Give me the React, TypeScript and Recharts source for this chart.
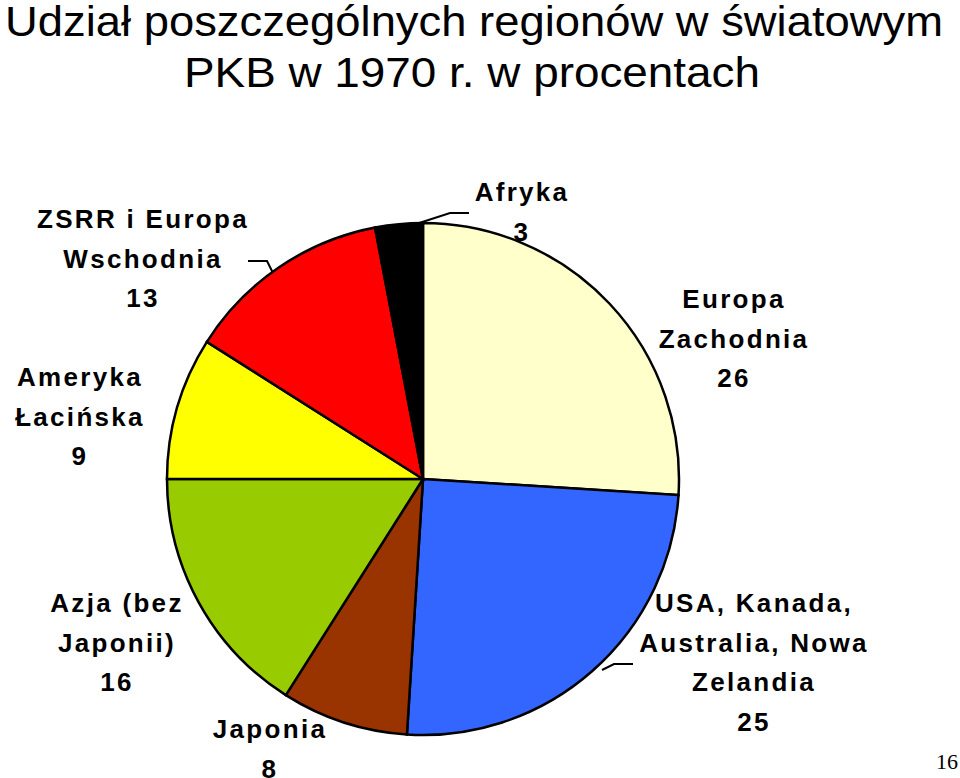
import { PieChart, Pie, Cell } from 'recharts';

const REGIONS = [
  'Europa Zachodnia',
  'USA, Kanada, Australia, Nowa Zelandia',
  'Japonia',
  'Azja (bez Japonii)',
  'Ameryka Łacińska',
  'ZSRR i Europa Wschodnia',
  'Afryka',
];
const SHARES = [26, 25, 8, 16, 9, 13, 3];
const LABEL_LINES = [
  ['Europa', 'Zachodnia'],
  ['USA, Kanada,', 'Australia, Nowa', 'Zelandia'],
  ['Japonia'],
  ['Azja (bez', 'Japonii)'],
  ['Ameryka', 'Łacińska'],
  ['ZSRR i Europa', 'Wschodnia'],
  ['Afryka'],
];
const TITLE = ['Udział poszczególnych regionów w światowym', 'PKB w 1970 r. w procentach'];
const PAGE_NO = '16';

const COLORS = ['#FFFFCC', '#3366FF', '#993300', '#99CC00', '#FFFF00', '#FF0000', '#000000'];

const data = REGIONS.map((name, i) => ({ name, value: SHARES[i] }));

const CX = 423;
const CY = 479;
const R = 256;
const LINE_H = 39.5;

// label anchor (centre x, first baseline) relative to pie centre
const LABEL_OFFSET: [number, number][] = [
  [310, -171],
  [330, 133],
  [-154, 259],
  [-307, 133],
  [-344, -93],
  [-281, -251],
  [98, -278],
];

// leader lines, relative to pie centre
const LEADERS: Record<number, [number, number][]> = {
  1: [[179, 191], [191, 185], [210, 185]],
  5: [[-175, -218], [-156, -218], [-150, -206]],
  6: [[-10, -254], [27, -266], [46, -266]],
};

const labelFont = {
  fontFamily: 'Arial, "Liberation Sans", sans-serif',
  fontWeight: 700,
  fontSize: 26,
  letterSpacing: 2.3,
  fill: '#000',
};

function renderLabel(props: any) {
  const { cx, cy, index, value } = props;
  const [dx, dy] = LABEL_OFFSET[index];
  const lines = [...LABEL_LINES[index], String(value)];
  return (
    <g key={`lbl-${index}`}>
      {lines.map((t, k) => (
        <text
          key={k}
          x={cx + dx + 1}
          y={cy + dy + k * LINE_H}
          textAnchor="middle"
          style={labelFont}
        >
          {t}
        </text>
      ))}
    </g>
  );
}

function renderLine(props: any) {
  const { index, cx, cy } = props;
  const pts = LEADERS[index];
  if (!pts) return <g key={`ll-${index}`} />;
  return (
    <polyline
      key={`ll-${index}`}
      points={pts.map(([x, y]) => `${cx + x},${cy + y}`).join(' ')}
      fill="none"
      stroke="#000"
      strokeWidth={2}
    />
  );
}

export default function App() {
  return (
    <div style={{ position: 'absolute', left: 0, top: 0, width: 960, height: 778, background: '#fff' }}>
      <PieChart width={960} height={778} margin={{ top: 0, right: 0, bottom: 0, left: 0 }}>
        <Pie
          data={data}
          dataKey="value"
          nameKey="name"
          cx={CX}
          cy={CY}
          outerRadius={R}
          startAngle={90}
          endAngle={-270}
          stroke="#000"
          strokeWidth={2.5}
          label={renderLabel}
          labelLine={renderLine}
          isAnimationActive={false}
        >
          {data.map((d, i) => (
            <Cell key={d.name} fill={COLORS[i]} />
          ))}
        </Pie>
      </PieChart>
      <svg
        width={960}
        height={778}
        style={{ position: 'absolute', left: 0, top: 0, pointerEvents: 'none' }}
      >
        <text
          x={474}
          y={36}
          textAnchor="middle"
          textLength={938}
          lengthAdjust="spacingAndGlyphs"
          style={{ fontFamily: 'Arial, "Liberation Sans", sans-serif', fontSize: 42, fill: '#000' }}
        >
          {TITLE[0]}
        </text>
        <text
          x={472}
          y={87}
          textAnchor="middle"
          textLength={576}
          lengthAdjust="spacingAndGlyphs"
          style={{ fontFamily: 'Arial, "Liberation Sans", sans-serif', fontSize: 42, fill: '#000' }}
        >
          {TITLE[1]}
        </text>
        <text
          x={958}
          y={769}
          textAnchor="end"
          style={{ fontFamily: '"Times New Roman", "Liberation Serif", serif', fontSize: 22, fill: '#000' }}
        >
          {PAGE_NO}
        </text>
      </svg>
    </div>
  );
}
